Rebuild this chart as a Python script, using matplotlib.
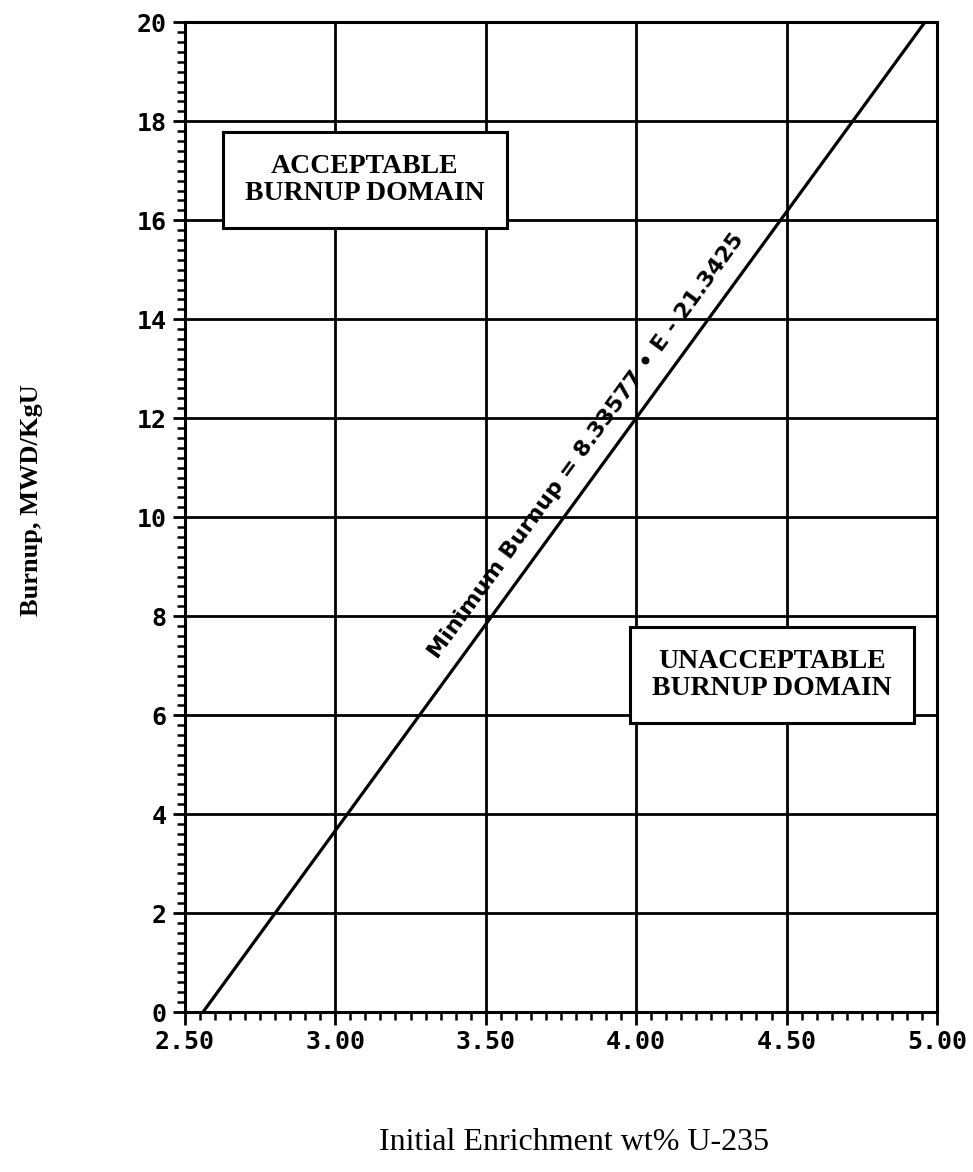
import numpy as np
import matplotlib
matplotlib.use("Agg")
import matplotlib.pyplot as plt
from matplotlib.ticker import MultipleLocator

# Limit line (Minimum Burnup = 8.33577 * E - 21.3425)
enrichment = [2.5604, 5.00]
burnup = [0.0, 20.337]

x_ticks = [2.50, 3.00, 3.50, 4.00, 4.50, 5.00]
x_tick_labels = ["2.50", "3.00", "3.50", "4.00", "4.50", "5.00"]
y_ticks = [0, 2, 4, 6, 8, 10, 12, 14, 16, 18, 20]

equation_label = "Minimum Burnup = 8.33577 \u2022 E - 21.3425"
acceptable_label = "ACCEPTABLE\nBURNUP DOMAIN"
unacceptable_label = "UNACCEPTABLE\nBURNUP DOMAIN"

fig = plt.figure(figsize=(9.73, 11.72), dpi=100)
ax = fig.add_axes([0.190, 0.1365, 0.773, 0.8445])

ax.plot(enrichment, burnup, color="black", linewidth=2.3, zorder=3)

ax.set_xlim(2.5, 5.0)
ax.set_ylim(0, 20)

# grid + ticks
ax.set_xticks(x_ticks)
ax.set_xticklabels(x_tick_labels)
ax.set_yticks(y_ticks)
ax.xaxis.set_minor_locator(MultipleLocator(0.05))
ax.yaxis.set_minor_locator(MultipleLocator(0.2))
ax.grid(True, which="major", color="black", linewidth=2.0)
ax.tick_params(which="major", direction="out", length=9, width=2.0, pad=4)
ax.tick_params(which="minor", direction="out", length=6, width=1.8)
for lab in ax.get_xticklabels() + ax.get_yticklabels():
    lab.set_fontfamily("DejaVu Sans Mono")
    lab.set_fontweight("bold")
    lab.set_fontsize(18)
for sp in ax.spines.values():
    sp.set_linewidth(2.2)

ax.set_xlabel("Initial Enrichment wt% U-235", family="Liberation Serif",
              fontsize=23)
ax.xaxis.set_label_coords(0.517, -0.117)
ax.set_ylabel("Burnup, MWD/KgU", family="Liberation Serif", fontweight="bold",
              fontsize=19)
ax.yaxis.set_label_coords(-0.189, 0.517)

# equation along the line
p1 = ax.transData.transform((enrichment[0], burnup[0]))
p2 = ax.transData.transform((enrichment[1], burnup[1]))
angle = np.degrees(np.arctan2(p2[1] - p1[1], p2[0] - p1[0]))
ax.text(3.835, 11.45, equation_label, rotation=angle, rotation_mode="anchor",
        ha="center", va="center", family="DejaVu Sans", fontweight="bold",
        fontsize=16, zorder=4)

box = dict(boxstyle="square,pad=0.8", facecolor="white", edgecolor="black",
           linewidth=2.2)
ax.text(2.70, 16.81, acceptable_label, ha="left", va="center",
        multialignment="center", family="Liberation Serif", fontweight="bold",
        fontsize=20, linespacing=1.1, bbox=box, zorder=5)
ax.text(4.451, 6.81, unacceptable_label, ha="center", va="center",
        family="Liberation Serif", fontweight="bold", fontsize=20,
        linespacing=1.1, bbox=box, zorder=5)

fig.savefig("out.png", dpi=100)
